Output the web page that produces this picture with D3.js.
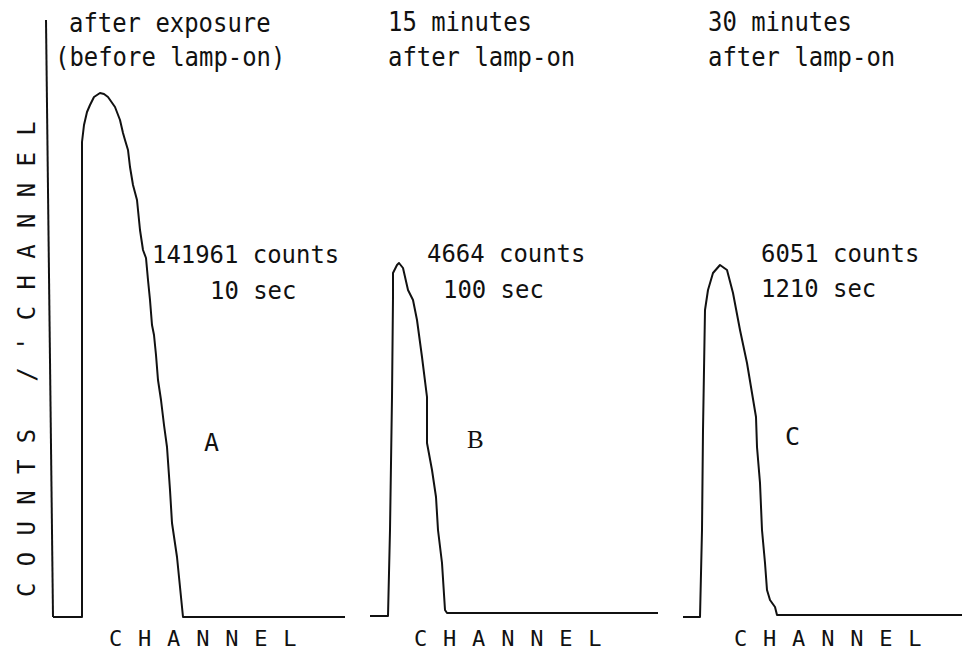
<!DOCTYPE html>
<html>
<head>
  <title>Spectra after exposure and lamp-on</title>
  <script src="https://d3js.org/d3.v7.min.js"></script>
  <style>
    body { margin: 0; background: #fff; }
    text { font-family: "DejaVu Sans Mono", monospace; fill: #111; }
    .curve { fill: none; stroke: #111; stroke-width: 2; stroke-linejoin: round; }
  </style>
</head>
<body>
  <svg id="chart" width="962" height="652"></svg>
  <script>
    // values: [channel, counts/channel] (arbitrary units)
    const spectrumA = [[0,0],[29,0],[29,475],[31,492],[34,505],[37,512],[41,520],[47,524],[51,523],[55,520],
      [62,510],[67,497],[70,484],[72,477],[75,467],[77,450],[80,432],[84,417],[87,387],[90,367],[93,359],
      [95,337],[97,317],[99,292],[101,282],[103,262],[105,237],[108,217],[111,192],[114,170],[117,127],
      [119,94],[124,60],[128,20],[130,0],[292,0]];
    const spectrumB = [[0,1],[18,1],[20,87],[22,220],[23,320],[23,344],[27,352],[29,354],[33,349],[38,327],
      [43,317],[47,297],[52,260],[57,220],[57,174],[62,147],[66,120],[68,87],[72,54],[75,7],[77,4],[288,4]];
    const spectrumC = [[0,0],[17,0],[19,87],[20,187],[22,307],[25,327],[30,344],[37,352],[44,347],[50,324],
      [57,287],[64,254],[69,224],[73,200],[74,170],[77,134],[79,87],[82,54],[84,27],[87,17],[92,10],
      [94,2],[95,2],[279,2]];

    const titleLines = [["after exposure", "(before lamp-on)"], ["15 minutes", "after lamp-on"], ["30 minutes", "after lamp-on"]];
    const countLabels = ["141961 counts", "4664 counts", "6051 counts"];
    const timeLabels = ["10 sec", "100 sec", "1210 sec"];
    const curveNames = ["A", "B", "C"];
    const xLabel = "CHANNEL";
    const yLabel = "COUNTS /'CHANNEL";

    const svg = d3.select("#chart");
    const adv = 14.4; // character pitch of the plotter font

    // shared vertical scale
    const y = d3.scaleLinear().domain([0, 600]).range([617, 17]);

    // one panel per spectrum, each with its own channel scale
    const panels = [
      { data: spectrumA, x0: 53,  title: [[69, 32], [55, 66]],   counts: [152, 263], time: [210, 299], name: [204, 451], serif: false, chan: 109 },
      { data: spectrumB, x0: 370, title: [[388, 31], [388, 66]], counts: [427, 262], time: [443, 298], name: [467, 448], serif: true,  chan: 414 },
      { data: spectrumC, x0: 683, title: [[708, 31], [708, 66]], counts: [761, 262], time: [761, 297], name: [785, 445], serif: false, chan: 734 }
    ];

    // y axis line (slightly tilted like the scanned original)
    svg.append("line")
      .attr("x1", 46).attr("y1", y(597))
      .attr("x2", 53).attr("y2", y(0))
      .attr("stroke", "#111").attr("stroke-width", 2);

    svg.append("text")
      .attr("transform", "translate(35,597) rotate(-90)")
      .attr("font-size", 24)
      .attr("letter-spacing", 16.3)
      .text(yLabel);

    function label(str, pos, size, serif) {
      const t = svg.append("text")
        .attr("x", pos[0]).attr("y", pos[1])
        .attr("font-size", size)
        .text(str);
      if (serif) {
        t.style("font-family", "'Liberation Serif', serif");
      } else {
        t.attr("textLength", str.length * adv).attr("lengthAdjust", "spacingAndGlyphs");
      }
      return t;
    }

    panels.forEach((p, i) => {
      const x = d3.scaleLinear().domain([0, 300]).range([p.x0, p.x0 + 300]);
      const line = d3.line().x(d => x(d[0])).y(d => y(d[1]));

      svg.append("path")
        .datum(p.data)
        .attr("class", "curve")
        .attr("d", line);

      label(titleLines[i][0], p.title[0], 26);
      label(titleLines[i][1], p.title[1], 26);
      label(countLabels[i], p.counts, 25);
      label(timeLabels[i], p.time, 25);

      if (p.serif) {
        label(curveNames[i], p.name, 25, true);
      } else {
        label(curveNames[i], p.name, 25).attr("textLength", null);
      }

      // spaced axis label, kept inside the bottom edge
      svg.append("text")
        .attr("x", p.chan).attr("y", 646)
        .attr("font-size", 22)
        .attr("letter-spacing", 15.8)
        .text(xLabel);
    });
  </script>
</body>
</html>
